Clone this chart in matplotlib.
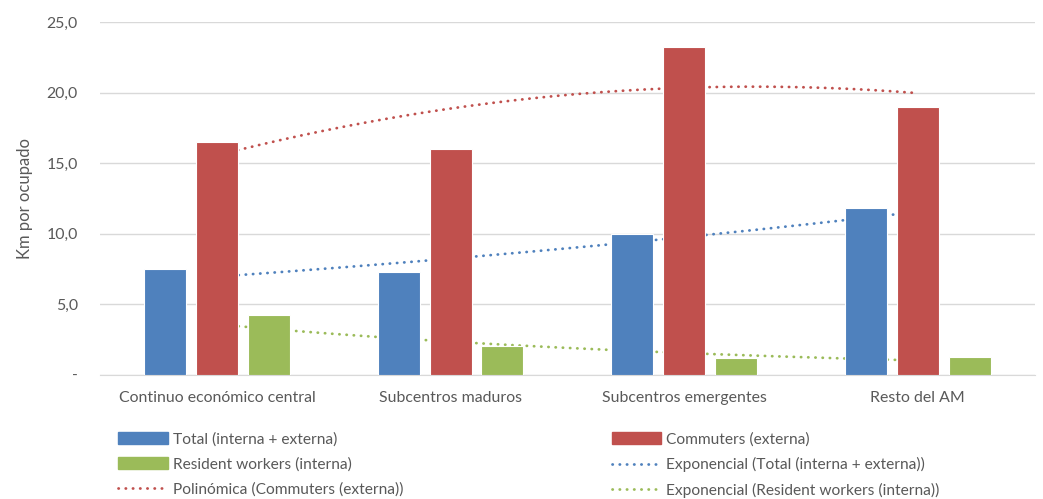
import numpy as np
import matplotlib
matplotlib.use("Agg")
import matplotlib.pyplot as plt
from matplotlib.lines import Line2D
from matplotlib.patches import Patch

plt.rcParams['font.family'] = ['Lato', 'DejaVu Sans']

categorias = ['Continuo económico central', 'Subcentros maduros',
              'Subcentros emergentes', 'Resto del AM']
total = [7.5, 7.25, 10.0, 11.85]
commuters = [16.5, 16.0, 23.2, 19.0]
resident = [4.25, 2.05, 1.2, 1.25]

azul = '#4F81BD'
rojo = '#C0504D'
verde = '#9BBB59'
gris = '#595959'

fig = plt.figure(figsize=(10.43, 4.99), dpi=100)
ax = fig.add_axes([0.096, 0.249, 0.896, 0.707])

x = np.arange(1, 5)
w = 0.18
off = 0.222
ax.bar(x - off, total, w, color=azul, edgecolor='white', linewidth=0.8, zorder=3)
ax.bar(x, commuters, w, color=rojo, edgecolor='white', linewidth=0.8, zorder=3)
ax.bar(x + off, resident, w, color=verde, edgecolor='white', linewidth=0.8, zorder=3)

# trendlines (Excel style): exponential and 2nd-order polynomial fits
xs = np.linspace(1, 4, 200)
b, lna = np.polyfit(x, np.log(total), 1)
exp_total = np.exp(lna + b * xs)
b2, lna2 = np.polyfit(x, np.log(resident), 1)
exp_res = np.exp(lna2 + b2 * xs)
poly_com = np.polyval(np.polyfit(x, commuters, 2), xs)

dots = dict(linewidth=2.0, linestyle=(0, (0.1, 2.5)), dash_capstyle='round', zorder=2)
ax.plot(xs, exp_total, color=azul, **dots)
ax.plot(xs, poly_com, color=rojo, **dots)
ax.plot(xs, exp_res, color=verde, **dots)

ax.set_xlim(0.5, 4.5)
ax.set_ylim(0, 25)
ax.set_yticks(np.arange(0, 26, 5))
ax.set_yticklabels(['-'] + [f'{v:.1f}'.replace('.', ',') for v in range(5, 26, 5)])
ax.set_xticks(x)
ax.set_xticklabels(categorias)
ax.tick_params(axis='both', length=0, labelsize=11.4, colors=gris)
ax.tick_params(axis='y', pad=16)
ax.tick_params(axis='x', pad=12)
ax.grid(axis='y', color='#D9D9D9', linewidth=1, zorder=0)
ax.set_axisbelow(True)
for s in ['top', 'right', 'left']:
    ax.spines[s].set_visible(False)
ax.spines['bottom'].set_color('#D9D9D9')
ax.set_ylabel('Km por ocupado', fontsize=12, color=gris, labelpad=10)

h1 = [Patch(color=azul), Patch(color=verde),
      Line2D([], [], color=rojo, **dots)]
l1 = ['Total (interna + externa)', 'Resident workers (interna)',
      'Polinómica (Commuters (externa))']
h2 = [Patch(color=rojo), Line2D([], [], color=azul, **dots),
      Line2D([], [], color=verde, **dots)]
l2 = ['Commuters (externa)', 'Exponencial (Total (interna + externa))',
      'Exponencial (Resident workers (interna))']
kw = dict(frameon=False, fontsize=11.2, handlelength=3.2, handleheight=0.75,
          handletextpad=0.3, labelspacing=0.68, labelcolor=gris, loc='upper left')
fig.legend(h1, l1, bbox_to_anchor=(0.1, 0.162), **kw)
fig.legend(h2, l2, bbox_to_anchor=(0.573, 0.162), **kw)

fig.savefig('out.png', dpi=100)
